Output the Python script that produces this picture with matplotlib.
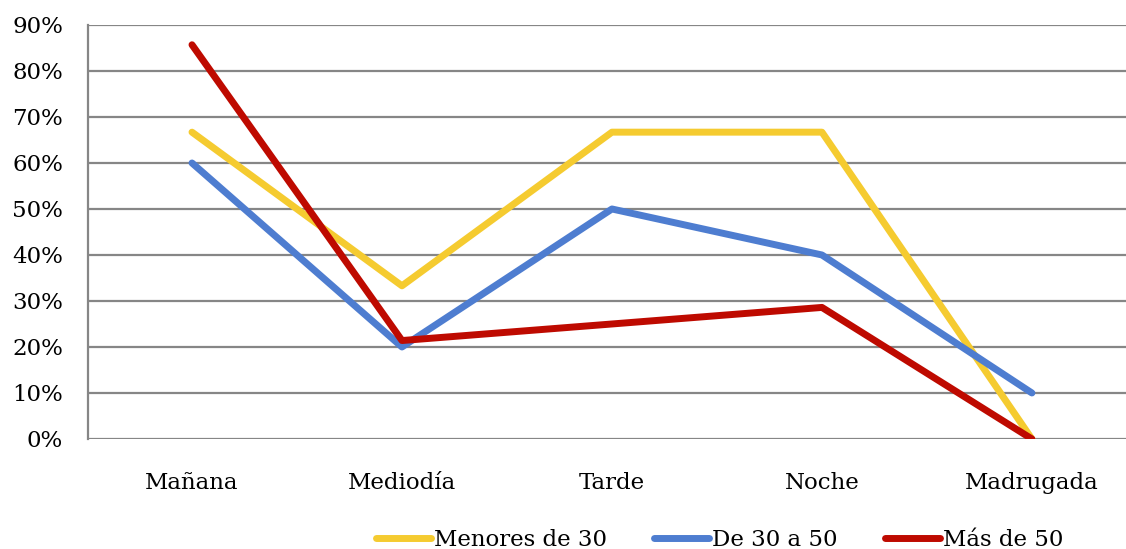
import numpy as np
import matplotlib.pyplot as plt
from matplotlib.ticker import PercentFormatter

# time of day categories
categories = ['Mañana', 'Mediodía', 'Tarde', 'Noche', 'Madrugada']

# share per age group (percent)
menores_30 = [66.7, 33.3, 66.7, 66.7, 0.0]
de_30_a_50 = [60.0, 20.0, 50.0, 40.0, 10.0]
mas_de_50 = [85.7, 21.4, 25.0, 28.6, 0.0]

series = [
	('Menores de 30', menores_30, '#F5CB30'),
	('De 30 a 50', de_30_a_50, '#4E7DD0'),
	('Más de 50', mas_de_50, '#BE0A00'),
]

FS = 16.5
plt.rcParams['font.family'] = ['DejaVu Serif']

fig = plt.figure(figsize=(11.26, 5.49), dpi=100)
ax = fig.add_axes([0.0782, 0.2004, 0.9218, 0.7541])

x = np.arange(len(categories))
for label, vals, col in series:
	ax.plot(x, vals, color=col, lw=5.0, solid_capstyle='round',
			solid_joinstyle='round', label=label, zorder=3)

ax.set_ylim(0, 90)
ax.set_yticks(np.arange(0, 91, 10))
ax.yaxis.set_major_formatter(PercentFormatter(decimals=0))
ax.set_xlim(-0.495, 4.448)
ax.set_xticks(x)
ax.set_xticklabels(categories)
ax.grid(axis='y', color='#868686', lw=1.6, zorder=1)
ax.set_axisbelow(True)
for s in ['top', 'right', 'bottom']:
	ax.spines[s].set_visible(False)
ax.spines['left'].set_color('#868686')
ax.spines['left'].set_linewidth(1.6)
ax.tick_params(axis='both', length=0, labelsize=FS, colors='black')
ax.tick_params(axis='x', pad=24)
ax.tick_params(axis='y', pad=18)

fig.legend(loc='center', bbox_to_anchor=(0.639, 0.017), ncol=3, frameon=False,
		   fontsize=FS, handlelength=2.4, handletextpad=0.13,
		   columnspacing=2.05, borderaxespad=0, borderpad=0)

fig.savefig('out.png', dpi=100)
